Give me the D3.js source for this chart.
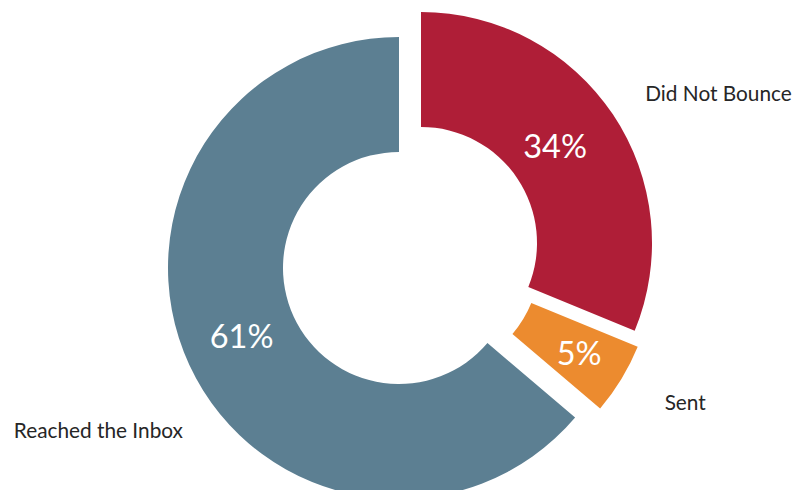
<!DOCTYPE html>
<html>
<head>
<meta charset="utf-8">
<script src="https://cdn.jsdelivr.net/npm/d3@7"></script>
<style>
  body { margin: 0; background: #fff; }
  svg { display: block; }
</style>
</head>
<body>
<div id="chart"></div>
<script>
// data
const categories = ["Did Not Bounce", "Sent", "Reached the Inbox"]
// slice shares as drawn (angles)
const shares = [31.2, 5.0, 63.8]
// percentages printed on the slices
const pctLabels = ["34%", "5%", "61%"]

const colors = ["#af1e37", "#ec8b2f", "#5c7f92"]

const width = 797
const height = 490
const cx = 410
const cy = 256
const outerR = 231
const innerR = 116
const labelR = 270

// explosion shift of each slice, pixels
const explode = [[11, -13], [14, 3], [-11, 12]]
// small nudges for outside labels and percent labels
const labelNudge = [[0, 1], [10, 3], [29, 49]]
const pctNudge = [[-10, 0], [7, 4], [0, -5]]

const data = categories.map((c, i) => ({
    name: c, share: shares[i], pct: pctLabels[i], color: colors[i],
    dx: explode[i][0], dy: explode[i][1],
    nx: labelNudge[i][0], ny: labelNudge[i][1],
    px: pctNudge[i][0], py: pctNudge[i][1]
}))

const svg = d3.select("#chart").append("svg")
    .attr("width", width)
    .attr("height", height)

const pie = d3.pie()
    .sort(null)
    .value(d => d.share)

const arc = d3.arc()
    .innerRadius(innerR)
    .outerRadius(outerR)

const outerArc = d3.arc()
    .innerRadius(labelR)
    .outerRadius(labelR)

const slices = svg.selectAll(".slice")
    .data(pie(data))
    .enter()
    .append("g")
    .attr("class", "slice")
    .attr("transform", d => "translate(" + (cx + d.data.dx) + "," + (cy + d.data.dy) + ")")

slices.append("path")
    .attr("d", arc)
    .attr("fill", d => d.data.color)

slices.append("text")
    .attr("transform", d => {
        const p = arc.centroid(d)
        return "translate(" + (p[0] + d.data.px) + "," + (p[1] + d.data.py) + ")"
    })
    .attr("dy", "0.36em")
    .style("text-anchor", "middle")
    .attr("font-family", "Lato, 'Open Sans', sans-serif")
    .attr("font-size", 32.5)
    .attr("fill", "white")
    .text(d => d.data.pct)

slices.append("text")
    .attr("transform", d => {
        const p = outerArc.centroid(d)
        return "translate(" + (p[0] + d.data.nx) + "," + (p[1] + d.data.ny) + ")"
    })
    .attr("dy", "0.36em")
    .style("text-anchor", d => (d.startAngle + d.endAngle) / 2 < Math.PI ? "start" : "end")
    .attr("font-family", "Lato, 'Open Sans', sans-serif")
    .attr("font-size", 20.8)
    .attr("fill", "#262626")
    .text(d => d.data.name)
</script>
</body>
</html>
